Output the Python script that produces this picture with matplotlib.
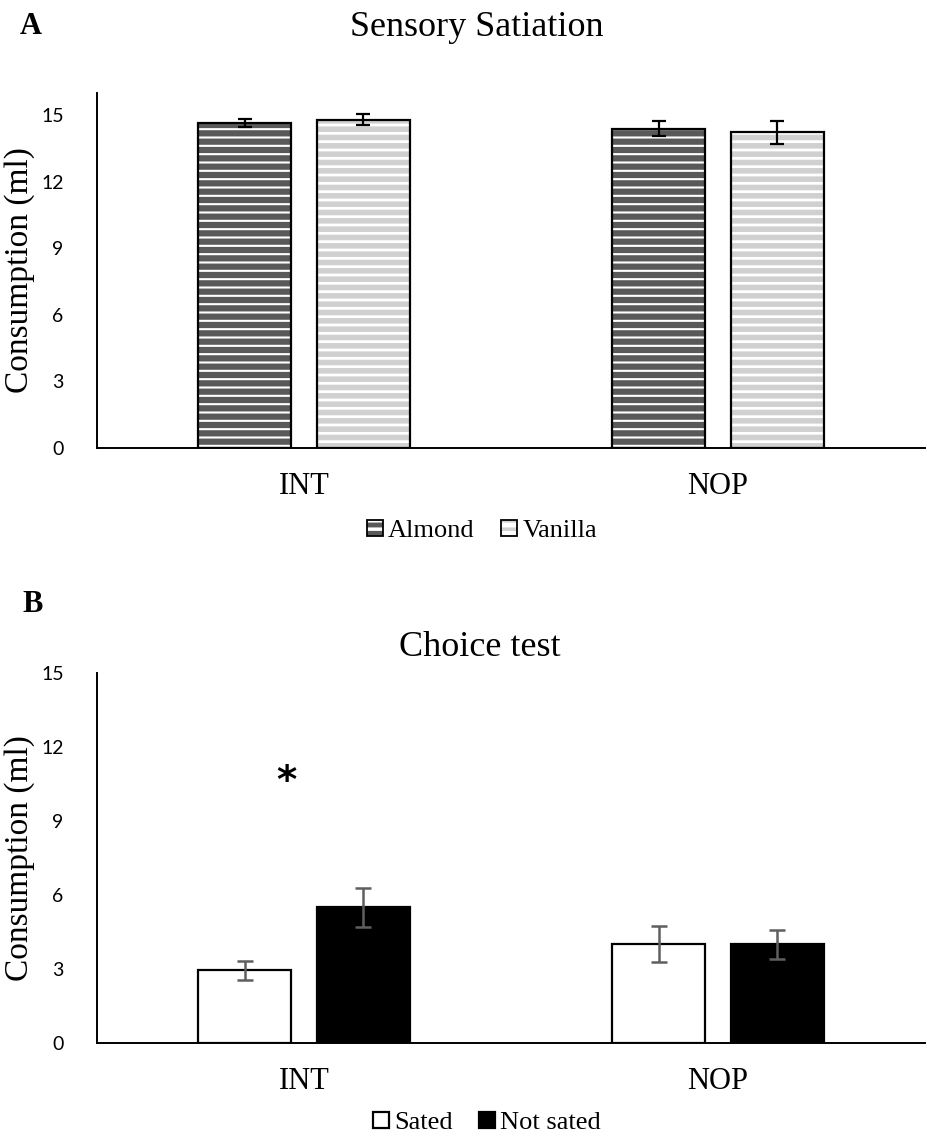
import numpy as np
import matplotlib.pyplot as plt
from matplotlib.patches import Patch

plt.rcParams['font.family'] = ['Liberation Serif', 'DejaVu Serif']

groups = ['INT', 'NOP']

# sensory satiation (ml)
almond = [14.65, 14.40]
almond_err = [0.16, 0.32]
vanilla = [14.80, 14.22]
vanilla_err = [0.24, 0.50]

# choice test (ml)
sated = [2.95, 4.00]
sated_err = [0.38, 0.73]
not_sated = [5.50, 4.00]
not_sated_err = [0.79, 0.59]

width = 0.225
offset = 0.143
W, H = 928, 1140


def hatched(lw, **kw):
    # hatch takes the edge colour, so fill and outline are drawn separately
    plt.rcParams['hatch.linewidth'] = lw
    p = Patch(hatch='--', linewidth=0, **kw)
    if hasattr(p, 'set_hatch_linewidth'):
        p.set_hatch_linewidth(lw)
    return p


def striped_bar(ax, x, h, face, stripe, lw):
    plt.rcParams['hatch.linewidth'] = lw
    b = ax.bar(x, h, width, color=face, edgecolor=stripe, hatch='--', linewidth=0, zorder=2)
    for p in b:
        if hasattr(p, 'set_hatch_linewidth'):
            p.set_hatch_linewidth(lw)
    ax.bar(x, h, width, fill=False, edgecolor='black', linewidth=1.6, zorder=3)


def style_axes(ax, ymax):
    ax.set_xlim(-0.5, 1.5)
    ax.set_ylim(0, ymax)
    ax.set_yticks(np.arange(0, 16, 3))
    for lab in ax.get_yticklabels():
        lab.set_fontfamily('Lato')
        lab.set_fontsize(14)
    ax.set_xticks(np.arange(len(groups)))
    ax.set_xticklabels(groups, fontsize=22)
    ax.tick_params(axis='both', length=0)
    ax.tick_params(axis='y', pad=24)
    ax.tick_params(axis='x', pad=17)
    for s in ['top', 'right']:
        ax.spines[s].set_visible(False)
    for s in ['left', 'bottom']:
        ax.spines[s].set_linewidth(1.4)
    ax.set_ylabel('Consumption (ml)', fontsize=24, labelpad=4)


fig = plt.figure(figsize=(W / 100, H / 100), dpi=100)
x = np.arange(len(groups))
leg_kw = dict(loc='center', ncol=2, frameon=False, fontsize=19, handlelength=0.6,
              handleheight=0.6, handletextpad=0.2, columnspacing=1.0)

# --- A: sensory satiation ---
ax1 = fig.add_axes([97 / W, 1 - 448 / H, 828 / W, 355 / H])
striped_bar(ax1, x - offset, almond, '#595959', 'white', 1.5)
striped_bar(ax1, x + offset, vanilla, 'white', '#d0d0d0', 4.0)
ax1.errorbar(x - offset, almond, yerr=almond_err, fmt='none', ecolor='black',
             elinewidth=1.6, capsize=5, capthick=1.6, zorder=4)
ax1.errorbar(x + offset, vanilla, yerr=vanilla_err, fmt='none', ecolor='black',
             elinewidth=1.6, capsize=5, capthick=1.6, zorder=4)
style_axes(ax1, 16)

h_alm = (hatched(1.2, facecolor='#595959', edgecolor='white'),
         Patch(fill=False, edgecolor='black', linewidth=1.3))
h_van = (hatched(2.5, facecolor='white', edgecolor='#d0d0d0'),
         Patch(fill=False, edgecolor='black', linewidth=1.3))
fig.legend([h_alm, h_van], ['Almond', 'Vanilla'],
           bbox_to_anchor=(482 / W, 1 - 531 / H), **leg_kw)
fig.text(477 / W, 1 - 27 / H, 'Sensory Satiation', fontsize=26, ha='center', va='center')
fig.text(20 / W, 1 - 27 / H, 'A', fontsize=22, fontweight='bold', va='center')

# --- B: choice test ---
ax2 = fig.add_axes([97 / W, 1 - 1043 / H, 828 / W, 370 / H])
ax2.bar(x - offset, sated, width, color='white', edgecolor='black', linewidth=1.6,
        zorder=2, label='Sated')
ax2.bar(x + offset, not_sated, width, color='black', edgecolor='black', linewidth=1.6,
        zorder=2, label='Not sated')
ax2.errorbar(x - offset, sated, yerr=sated_err, fmt='none', ecolor='#5f5f5f',
             elinewidth=1.8, capsize=6, capthick=1.8, zorder=4)
ax2.errorbar(x + offset, not_sated, yerr=not_sated_err, fmt='none', ecolor='#5f5f5f',
             elinewidth=1.8, capsize=6, capthick=1.8, zorder=4)
style_axes(ax2, 15)
ax2.text(x[0] - 0.042, 10.6, '*', fontsize=28, fontweight='bold', ha='center', va='center',
         family='DejaVu Sans')
h, l = ax2.get_legend_handles_labels()
fig.legend(h, l, bbox_to_anchor=(487 / W, 1 - 1123 / H), **leg_kw)
fig.text(480 / W, 1 - 648 / H, 'Choice test', fontsize=26, ha='center', va='center')
fig.text(22 / W, 1 - 605 / H, 'B', fontsize=22, fontweight='bold', va='center')

fig.savefig('out.png', dpi=100)
